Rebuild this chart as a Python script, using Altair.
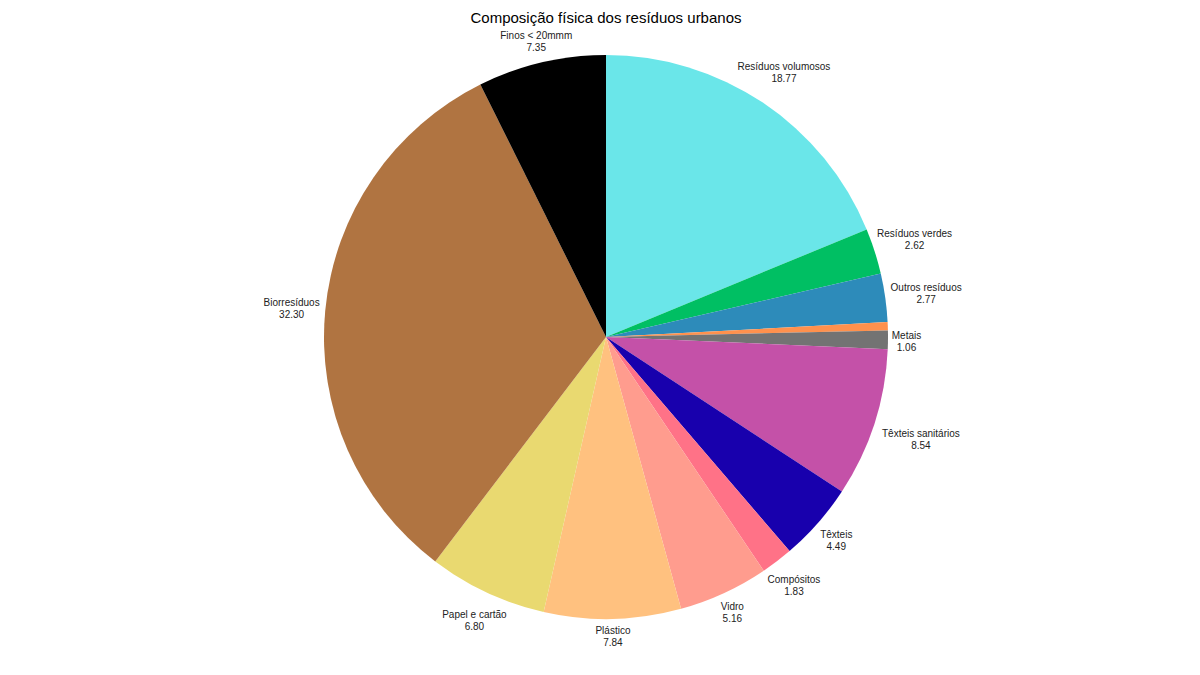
import altair as alt
import pandas as pd

categories = ["Resíduos volumosos", "Resíduos verdes", "Outros resíduos", "Resíduos perigosos",
              "Metais", "Têxteis sanitários", "Têxteis", "Compósitos", "Vidro", "Plástico",
              "Papel e cartão", "Biorresíduos", "Finos < 20mmm"]
values = [18.77, 2.62, 2.77, 0.47, 1.06, 8.54, 4.49, 1.83, 5.16, 7.84, 6.80, 32.30, 7.35]
colors = ["#6AE6E9", "#00BF63", "#2D8BBA", "#FF914D", "#737373", "#C451A8", "#1800AD",
          "#FF7287", "#FF9C8E", "#FFC17F", "#E9D970", "#B07441", "#000000"]
show_label = [True, True, True, False, True, True, True, True, True, True, True, True, True]

df = pd.DataFrame({
    "categoria": categories,
    "valor": values,
    "ordem": list(range(len(categories))),
    "rotulo": [f"{c}\n{v:.2f}" if s else "" for c, v, s in zip(categories, values, show_label)],
})

cx, cy, r = 598, 301, 282

arcs = alt.Chart(df).mark_arc(outerRadius=r, stroke=None).encode(
    theta=alt.Theta("valor:Q", stack=True),
    order=alt.Order("ordem:Q", sort="ascending"),
    x=alt.value(cx), y=alt.value(cy),
    color=alt.Color("categoria:N", scale=alt.Scale(domain=categories, range=colors), legend=None),
)

labels = alt.Chart(df).transform_joinaggregate(
    total="sum(valor)"
).transform_window(
    cum="sum(valor)", sort=[alt.SortField("ordem")], frame=[None, 0]
).transform_calculate(
    mid="2*PI*(datum.cum - datum.valor/2)/datum.total",
    w="max(length(datum.categoria), 4) * 4.8",
).transform_calculate(
    rad="286 + abs(sin(datum.mid))*datum.w/2 + abs(cos(datum.mid))*12",
).mark_text(fontSize=10, lineBreak="\n", lineHeight=12, dy=-4,
            font="Liberation Sans", color="#222222", baseline="middle").encode(
    theta=alt.Theta("mid:Q", scale=None, stack=False),
    radius=alt.Radius("rad:Q", scale=None),
    x=alt.value(cx), y=alt.value(cy),
    text="rotulo:N",
)

chart = alt.layer(arcs, labels).properties(
    width=1184, height=631,
    autosize=alt.AutoSizeParams(type="none"),
    padding={"top": 28, "left": 0, "right": 0, "bottom": 0},
    title=alt.Title("Composição física dos resíduos urbanos", fontSize=15, fontWeight="normal",
                    font="Liberation Sans", color="#000000", anchor="middle", offset=5, dx=6),
).configure_view(stroke=None)

chart.save("out.html", embed_options={"renderer": "svg", "actions": False})
